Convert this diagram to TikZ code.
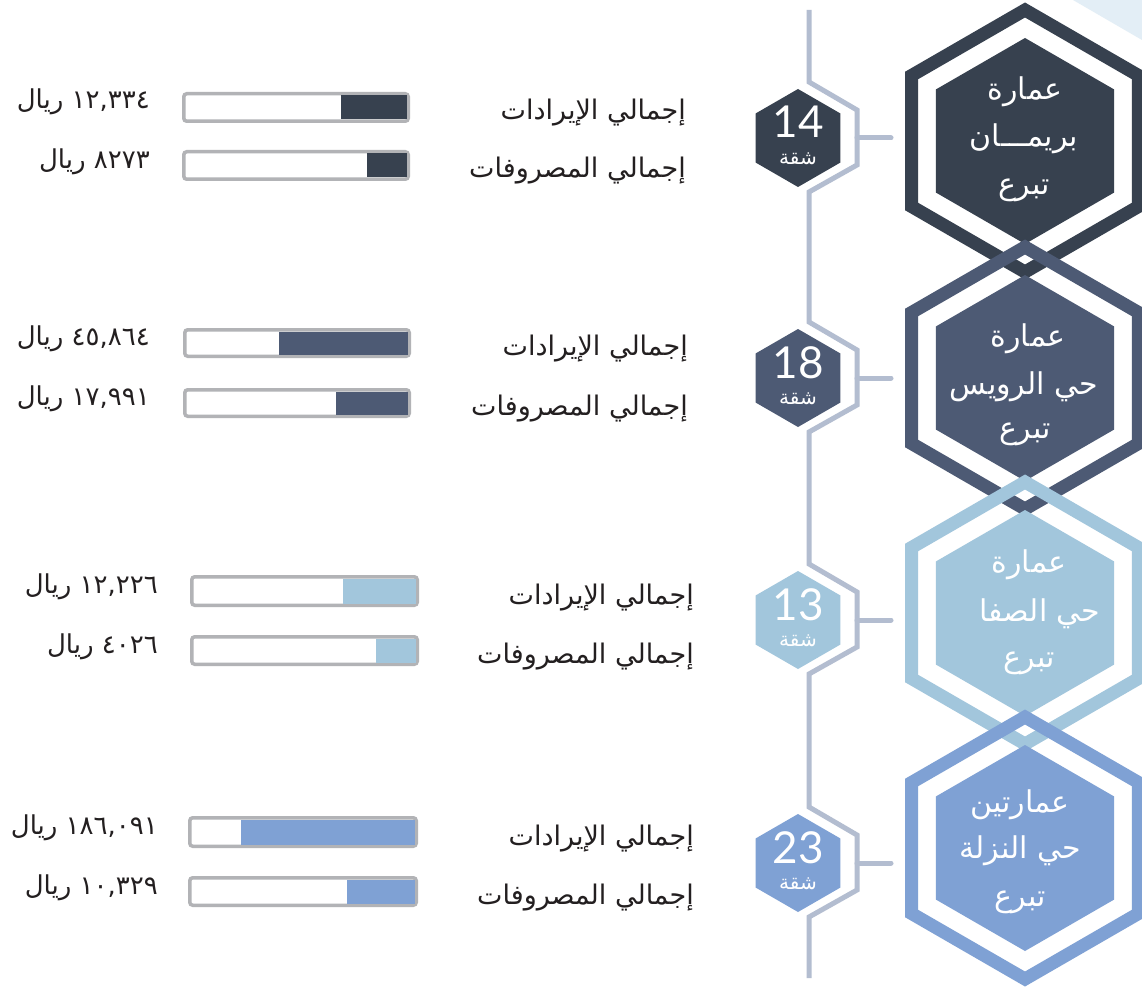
\documentclass[tikz,border=0pt]{standalone}
\usepackage{fontspec}
\TeXXeTstate=1
\newfontfamily\arabicfont[Script=Arabic]{DejaVu Sans}
\newfontfamily\numfont{Lato}
\definecolor{hexA}{HTML}{37414F}
\definecolor{hexB}{HTML}{4D5A74}
\definecolor{hexC}{HTML}{A2C6DC}
\definecolor{hexD}{HTML}{7FA1D4}
\definecolor{tline}{HTML}{B3BDD0}
\definecolor{barline}{HTML}{B2B3B6}
\definecolor{txt}{HTML}{231F20}
\definecolor{corner}{HTML}{E3EEF6}
\newcommand\AR[1]{\beginR #1\endR}
\newcommand\bighex[2]{%
  \draw[band, draw=#2, shift={(1025,#1)}] (90:131) -- (30:131) -- (-30:131) -- (-90:131) -- (-150:131) -- (150:131) -- cycle;
  \fill[#2, shift={(1025,#1)}] (90:103) -- (30:103) -- (-30:103) -- (-90:103) -- (-150:103) -- (150:103) -- cycle;
}
\newcommand\smallhex[2]{%
  \fill[#2, shift={(798,#1)}] (90:49) -- (30:49) -- (-30:49) -- (-90:49) -- (-150:49) -- (150:49) -- cycle;
}
\newcommand\databar[6]{%
  \draw[barbox] (#1+1.75,#3+1.75) rectangle (#2-1.75,#4-1.75);
  \fill[#6] (#5,#3+3.5) rectangle (#2-3.5,#4-3.5);
}
\begin{document}
\begin{tikzpicture}[x=1pt,y=-1pt,
  band/.style={line width=13pt, line join=miter},
  lbl/.style={font=\arabicfont\fontsize{27}{30}\selectfont, text=txt, anchor=base east, inner sep=0pt},
  amt/.style={font=\arabicfont\fontsize{26}{28}\selectfont, text=txt, anchor=base east, inner sep=0pt},
  htxt/.style={font=\arabicfont\fontsize{30}{32}\selectfont, text=white, anchor=base, inner sep=0pt},
  bnum/.style={font=\numfont\fontsize{44}{44}\selectfont, text=white, inner sep=0pt, text height=32pt, text depth=0pt},
  blbl/.style={font=\arabicfont\fontsize{20}{22}\selectfont, text=white, inner sep=0pt, text height=12pt, text depth=3pt},
  tl/.style={draw=tline, line width=5pt, line join=miter},
  barbox/.style={draw=barline, line width=3.5pt, rounded corners=3pt, fill=white},
]
\fill[white] (0,0) rectangle (1142,987);
\useasboundingbox (0,0) rectangle (1142,987);
\fill[corner] (1073,0) -- (1142,0) -- (1142,40) -- cycle;

% timeline
\draw[tl] (809,10) -- (809,82) -- (857,110) -- (857,165) -- (809,192)
  -- (809,322) -- (857,350) -- (857,405) -- (809,432)
  -- (809,564) -- (857,592) -- (857,647) -- (809,674)
  -- (809,807) -- (857,835) -- (857,890) -- (809,917) -- (809,978);

% junctions and hex entry points
\coordinate (j1) at (857,138); \coordinate (e1) at (891,138);
\coordinate (j2) at (857,378); \coordinate (e2) at (891,378);
\coordinate (j3) at (857,620); \coordinate (e3) at (891,620);
\coordinate (j4) at (857,863); \coordinate (e4) at (891,863);
\draw[tl, line cap=round] (j1) -- (e1);
\draw[tl, line cap=round] (j2) -- (e2);
\draw[tl, line cap=round] (j3) -- (e3);
\draw[tl, line cap=round] (j4) -- (e4);

% big hexagons
\bighex{141}{hexA}
\bighex{378}{hexB}
\bighex{613}{hexC}
\bighex{848}{hexD}

% hexagon texts
\node[htxt] (h1a) at (1025,100) {\AR{عمارة}};
\node[htxt] (h1b) at (1024,147) {\AR{بريمـــان}};
\node[htxt] (h1c) at (1024,194) {\AR{تبرع}};
\node[htxt] (h2a) at (1028,346) {\AR{عمارة}};
\node[htxt] (h2b) at (1024,394) {\AR{حي الرويس}};
\node[htxt] (h2c) at (1025,438) {\AR{تبرع}};
\node[htxt] (h3a) at (1029,572) {\AR{عمارة}};
\node[htxt] (h3b) at (1040,621) {\AR{حي الصفا}};
\node[htxt] (h3c) at (1029,667) {\AR{تبرع}};
\node[htxt] (h4a) at (1020,812) {\AR{عمارتين}};
\node[htxt] (h4b) at (1020,858) {\AR{حي النزلة}};
\node[htxt] (h4c) at (1020,906) {\AR{تبرع}};

% badges
\smallhex{138}{hexA}
\smallhex{378}{hexB}
\smallhex{620}{hexC}
\smallhex{863}{hexD}
\node[bnum] (n1) at (798,122) {14};
\node[blbl] (s1) at (798,160) {\AR{شقة}};
\node[bnum] (n2) at (798,362) {18};
\node[blbl] (s2) at (798,400) {\AR{شقة}};
\node[bnum] (n3) at (798,604) {13};
\node[blbl] (s3) at (798,642) {\AR{شقة}};
\node[bnum] (n4) at (798,847) {23};
\node[blbl] (s4) at (798,885) {\AR{شقة}};

% bars
\databar{182}{410}{92}{123}{341}{hexA}
\databar{182}{410}{150}{181}{367}{hexA}
\databar{183}{411}{328}{358}{279}{hexB}
\databar{183}{411}{388}{418}{336}{hexB}
\databar{190}{419}{575}{607}{343}{hexC}
\databar{190}{419}{635}{666}{376}{hexC}
\databar{188}{418}{816}{848}{241}{hexD}
\databar{188}{418}{876}{907}{347}{hexD}

% labels
\node[lbl] (l1a) at (686,120) {\AR{إجمالي الإيرادات}};
\node[lbl] (l1b) at (686,178) {\AR{إجمالي المصروفات}};
\node[lbl] (l2a) at (688,355) {\AR{إجمالي الإيرادات}};
\node[lbl] (l2b) at (688,415) {\AR{إجمالي المصروفات}};
\node[lbl] (l3a) at (694,604) {\AR{إجمالي الإيرادات}};
\node[lbl] (l3b) at (694,663) {\AR{إجمالي المصروفات}};
\node[lbl] (l4a) at (694,845) {\AR{إجمالي الإيرادات}};
\node[lbl] (l4b) at (694,904) {\AR{إجمالي المصروفات}};

% amounts
\node[amt] (v1a) at (150,109) {\AR{١٢,٣٣٤ ريال}};
\node[amt] (v1b) at (150,168) {\AR{٨٢٧٣ ريال}};
\node[amt] (v2a) at (150,345) {\AR{٤٥,٨٦٤ ريال}};
\node[amt] (v2b) at (150,405) {\AR{١٧,٩٩١ ريال}};
\node[amt] (v3a) at (158,593) {\AR{١٢,٢٢٦ ريال}};
\node[amt] (v3b) at (158,653) {\AR{٤٠٢٦ ريال}};
\node[amt] (v4a) at (158,834) {\AR{١٨٦,٠٩١ ريال}};
\node[amt] (v4b) at (158,894) {\AR{١٠,٣٢٩ ريال}};
\end{tikzpicture}
\end{document}
